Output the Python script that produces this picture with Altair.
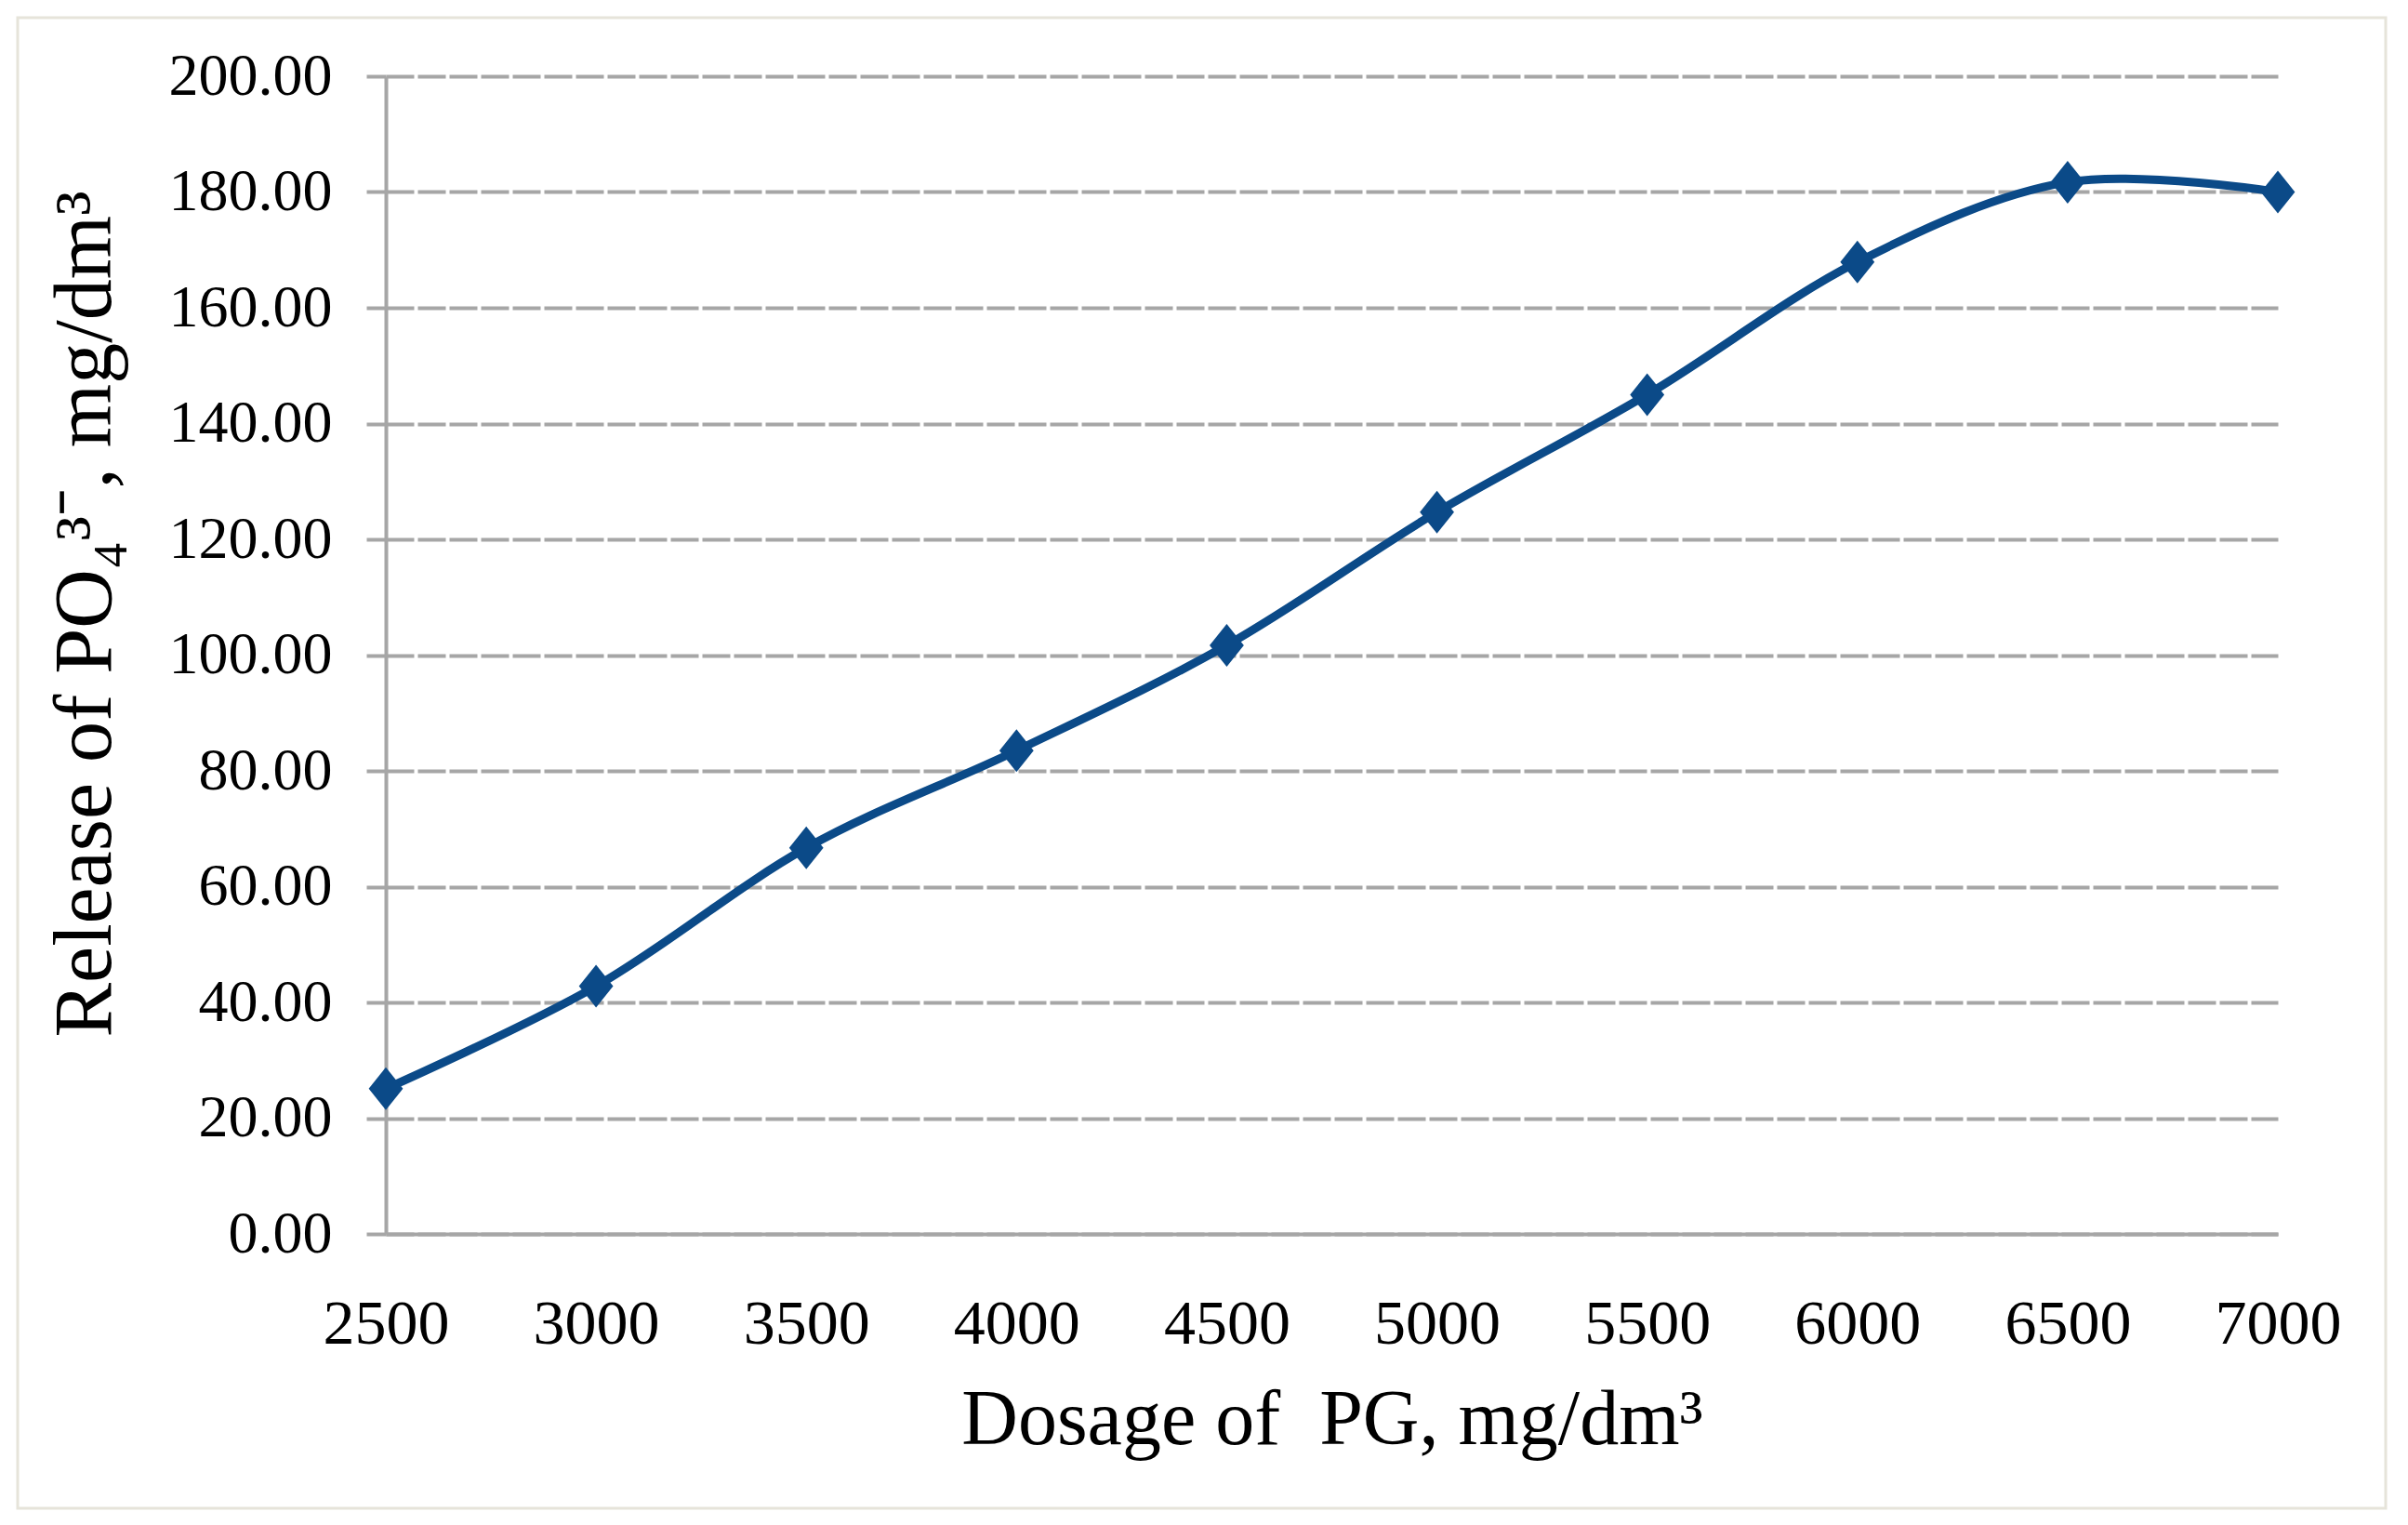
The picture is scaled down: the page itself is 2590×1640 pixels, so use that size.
import altair as alt
import pandas as pd

dosage = [2500, 3000, 3500, 4000, 4500, 5000, 5500, 6000, 6500, 7000]
release = [25.1, 42.8, 66.7, 83.5, 101.7, 124.7, 145.0, 167.9, 181.7, 180.0]
x_ticks = [2500, 3000, 3500, 4000, 4500, 5000, 5500, 6000, 6500, 7000]
y_ticks = [0, 20, 40, 60, 80, 100, 120, 140, 160, 180, 200]

x_title = "Dosage of\u00a0 PG, mg/dm³"
y_title = "Release of PO₄³⁻, mg/dm³"

df = pd.DataFrame({"dosage": dosage, "release": release})

FONT = "Liberation Serif"
BLUE = "#0b4a88"
GRAY = "#a6a6a6"

W, H = 2035, 1245

x_enc = alt.X(
    "dosage:Q",
    scale=alt.Scale(domain=[2500, 7000], nice=False, zero=False),
    axis=alt.Axis(
        values=x_ticks, format="d", title=x_title,
        grid=False, ticks=False, tickSize=0,
        domain=True, domainColor=GRAY, domainWidth=4,
        labelFont=FONT, labelFontSize=68, labelColor="black",
        labelBaseline="alphabetic", labelPadding=117, labelFlush=False,
        titleFont=FONT, titleFontSize=84, titleFontWeight="normal", titleColor="black",
        titleBaseline="alphabetic", titleY=225,
    ),
)
y_enc = alt.Y(
    "release:Q",
    scale=alt.Scale(domain=[0, 200], nice=False),
    axis=alt.Axis(
        values=y_ticks, format=".2f", title=y_title,
        grid=True, gridColor=GRAY, gridWidth=4, gridDash=[30, 4],
        ticks=True, tickSize=21, tickColor=GRAY, tickWidth=4,
        domain=True, domainColor=GRAY, domainWidth=4,
        labelFont=FONT, labelFontSize=64, labelColor="black",
        labelPadding=37, labelFlush=False,
        titleFont=FONT, titleFontSize=88, titleFontWeight="normal", titleColor="black",
        titleAngle=270, titleBaseline="alphabetic", titleAlign="center",
        titleX=-297, titleY=578,
    ),
)

base = alt.Chart(df).encode(x=x_enc, y=y_enc)

line = base.mark_line(color=BLUE, strokeWidth=9, interpolate="cardinal", tension=0)
points = base.mark_point(
    shape="M-0.8,0L0,-1L0.8,0L0,1Z", size=2116, filled=True, color=BLUE, opacity=1
)

border = alt.Chart(pd.DataFrame({"b": [0]})).mark_rect(
    filled=False, stroke="#e6e4da", strokeWidth=3
).encode(
    x=alt.value(-396), x2=alt.value(2151), y=alt.value(-63), y2=alt.value(1540)
)

chart = alt.layer(border, line, points).properties(
    width=W, height=H,
    padding={"left": 407, "top": 74, "right": 120, "bottom": 300},
    autosize=alt.AutoSizeParams(type="none"),
    background="white",
).configure_view(stroke=None)

chart.save("out.html", embed_options={"renderer": "svg", "actions": False})
